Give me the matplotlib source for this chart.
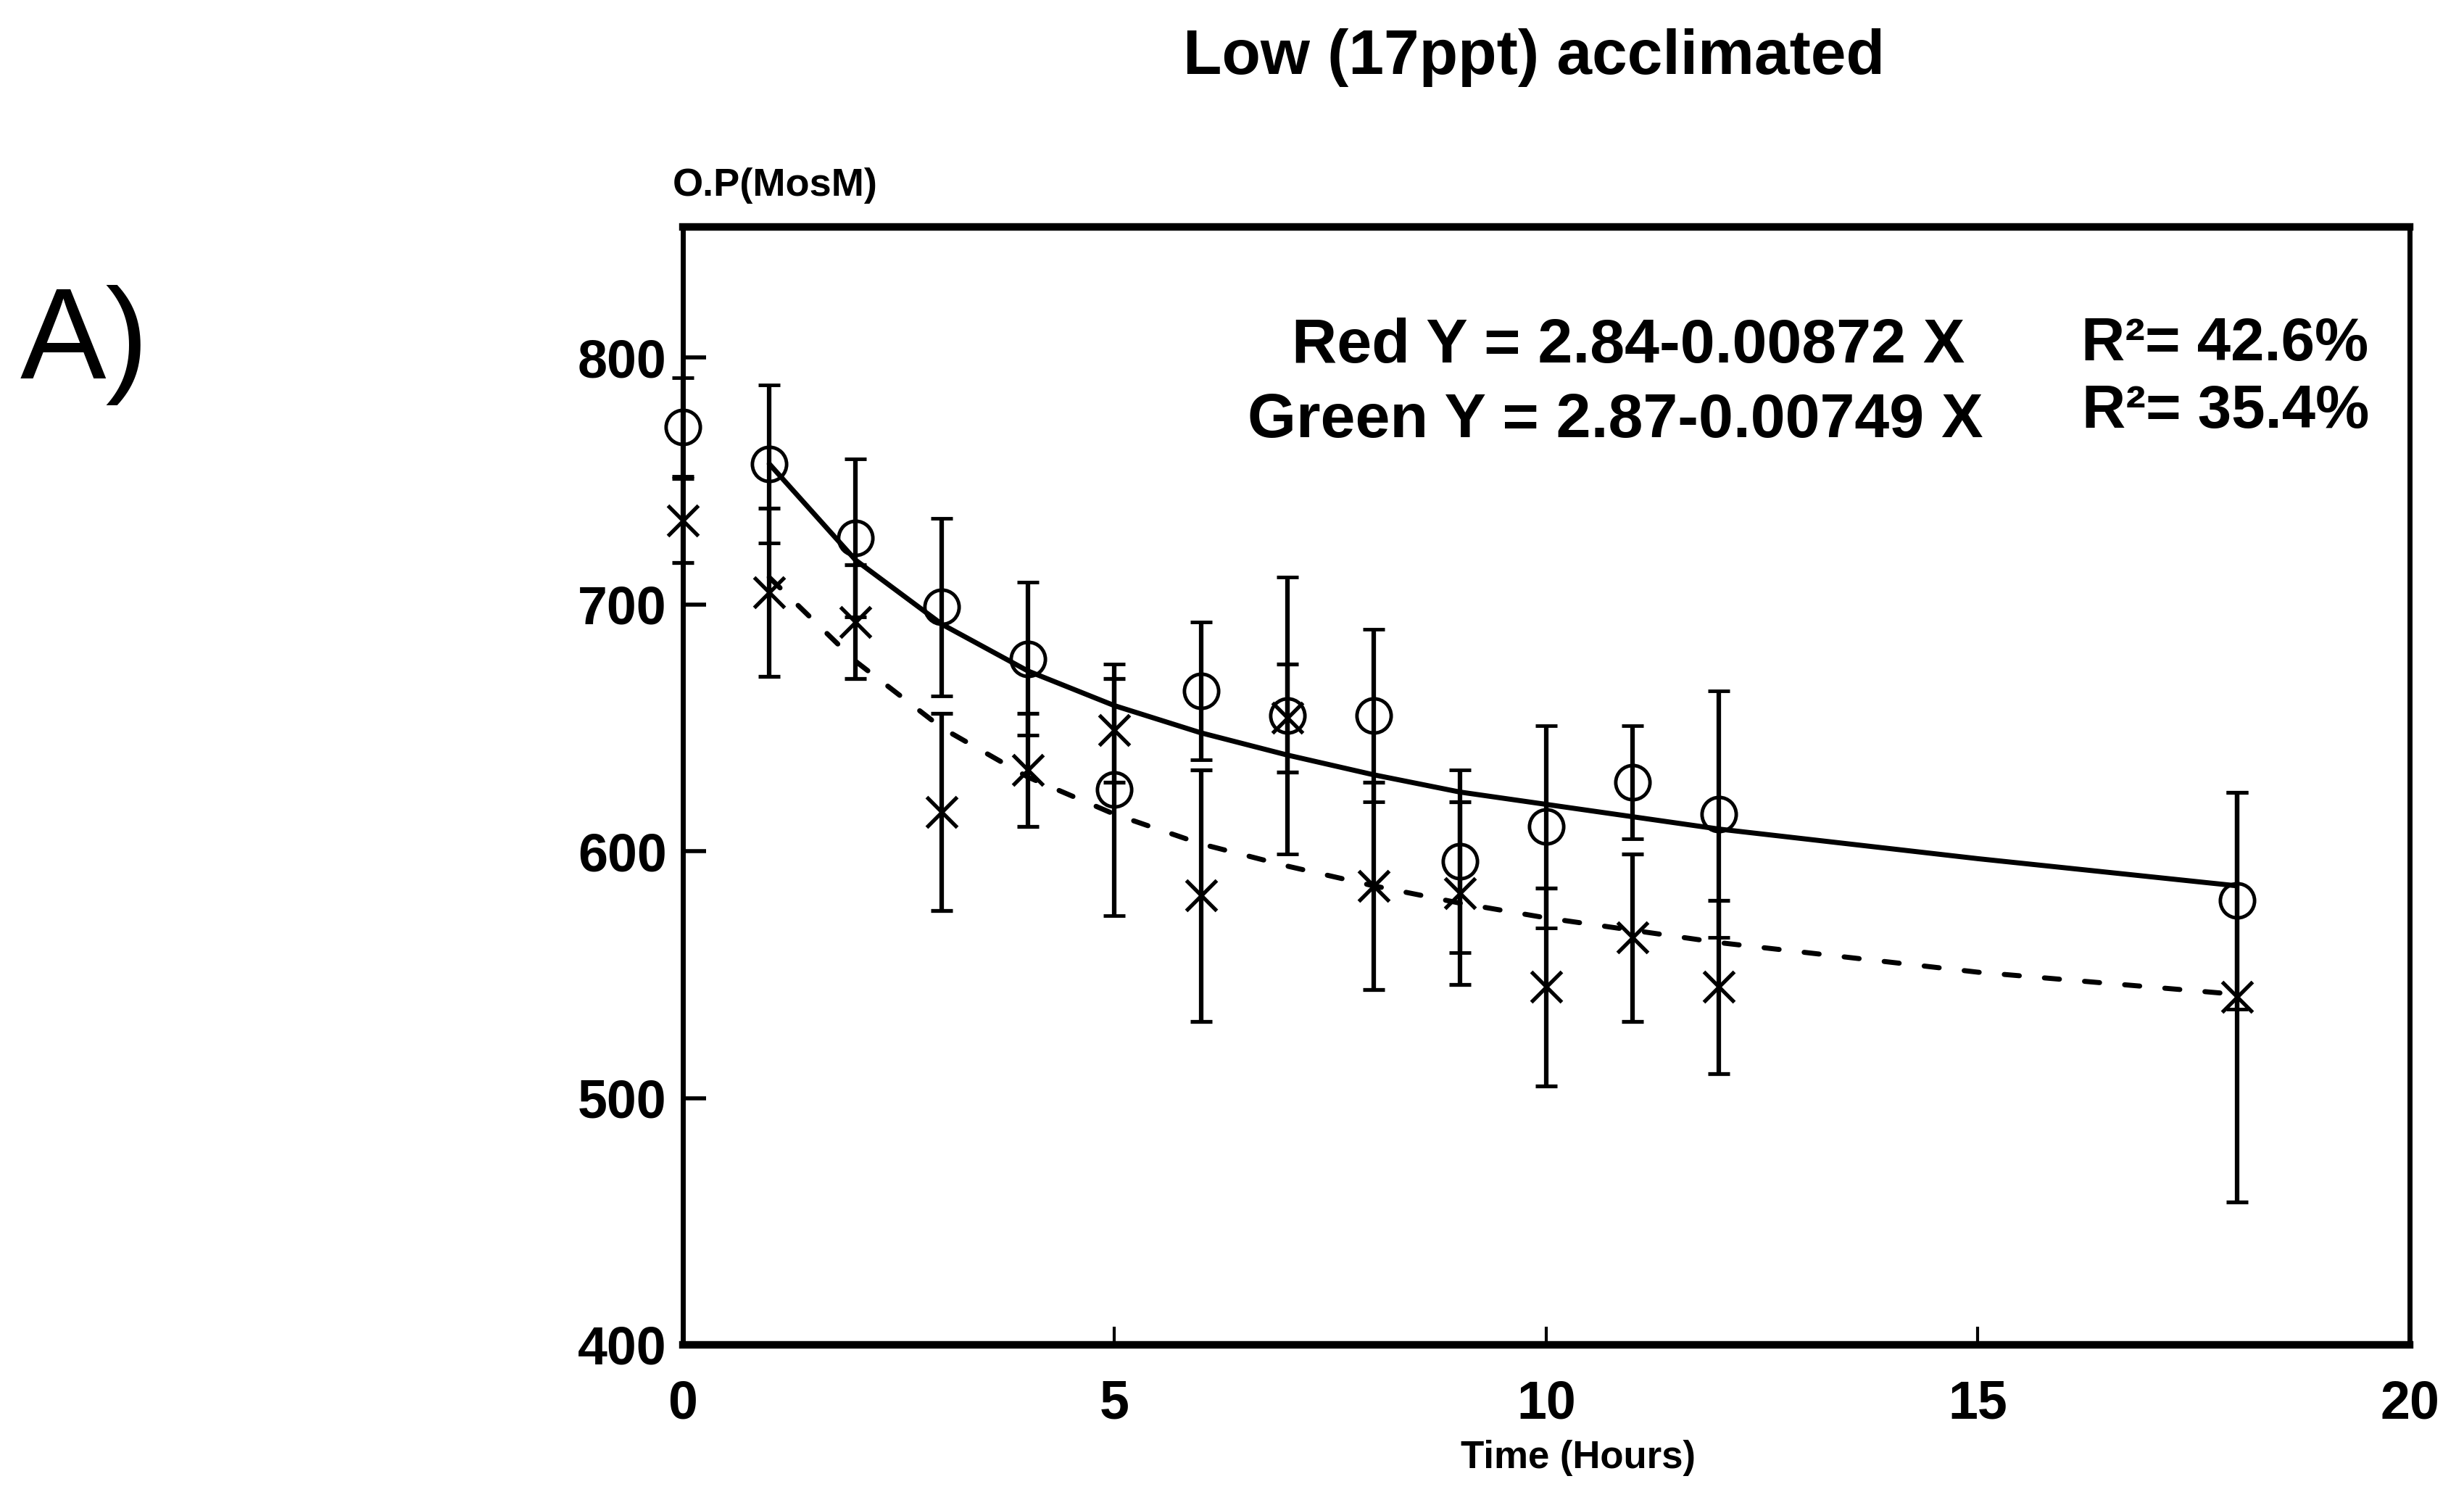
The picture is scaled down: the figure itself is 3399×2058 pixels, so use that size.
import matplotlib
matplotlib.use("Agg")
import matplotlib.pyplot as plt

# ---------------- data ----------------
hours = [0, 1, 2, 3, 4, 5, 6, 7, 8, 9, 10, 11, 12, 18]

red_op = [772, 757, 727, 699, 678, 625, 665, 655, 655, 596, 610, 628, 615, 580]
red_err = [20, 32, 32, 36, 31, 51, 28, 56, 35, 37, 41, 23, 50, 44]

green_op = [734, 705, 693, 616, 633, 649, 582, 654, 586, 583, 545, 565, 545, 541]
green_err = [17, 34, 23, 40, 23, 21, 51, 22, 42, 37, 40, 34, 35, 83]

fit_hours = [1, 2, 3, 4, 5, 6, 7, 8, 9, 10, 11, 12, 15, 18]
red_fit = [757, 718, 692, 673, 659, 648, 639, 631, 624, 619, 614, 609, 597, 586]
green_fit = [711, 677, 650, 630, 615, 603, 594, 586, 579, 573, 568, 563, 551, 542]

x_ticks = [0, 5, 10, 15, 20]
y_ticks = [400, 500, 600, 700, 800]

title = "Low (17ppt) acclimated"
panel_label = "A)"
y_label = "O.P(MosM)"
x_label = "Time (Hours)"
red_eq = "Red Y = 2.84-0.00872 X"
green_eq = "Green Y = 2.87-0.00749 X"
red_r2 = "R\u00b2= 42.6%"
green_r2 = "R\u00b2= 35.4%"

# ---------------- figure ----------------
W, H = 3399, 2058
DPI = 100
fig = plt.figure(figsize=(W / DPI, H / DPI), dpi=DPI)
fig.patch.set_facecolor("white")

FONT = ["Liberation Sans", "DejaVu Sans"]

# axes placement (pixels from top-left of the reference)
ax_left, ax_right, ax_top, ax_bottom = 942, 3324, 313, 1855
ax = fig.add_axes([ax_left / W, 1 - ax_bottom / H,
                   (ax_right - ax_left) / W, (ax_bottom - ax_top) / H])

ax.set_xlim(0, 20)
ax.set_ylim(400, 853)

# fitted curves
ax.plot(fit_hours, red_fit, color="black", lw=5, solid_capstyle="round", zorder=2)
ax.plot(fit_hours, green_fit, color="black", lw=5, linestyle=(0, (3.0, 5.0)),
        dash_capstyle="round", zorder=2)

# data with error bars
eb_red = ax.errorbar(hours, red_op, yerr=red_err, fmt="o", ms=34, mfc="none",
                     mec="black", mew=3.5, ecolor="black", elinewidth=4.5,
                     capsize=11, capthick=6, zorder=3)
eb_green = ax.errorbar(hours, green_op, yerr=green_err, fmt="x", ms=30,
                       mec="black", mew=3.8, ecolor="black", elinewidth=4.5,
                       capsize=11, capthick=6, zorder=3)
for eb in (eb_red, eb_green):
    for art in eb.get_children():
        art.set_clip_on(False)

# spines
for side in ("top", "bottom"):
    ax.spines[side].set_linewidth(7.5)
for side in ("left", "right"):
    ax.spines[side].set_linewidth(5)

# ticks
ax.set_xticks(x_ticks)
ax.set_xticklabels([str(v) for v in x_ticks])
ax.set_yticks(y_ticks)
ax.set_yticklabels([str(v) for v in y_ticks])
ax.tick_params(axis="x", direction="in", length=18, width=3, pad=34)
ax.tick_params(axis="y", direction="in", length=23, width=4, pad=16)
for lab in ax.get_xticklabels() + ax.get_yticklabels():
    lab.set_fontfamily(FONT)
    lab.set_fontweight("bold")
    lab.set_fontsize(53)

# texts (figure pixel positions -> figure fraction)
def fx(px):
    return px / W

def fy(py):
    return 1 - py / H

fig.text(fx(2710), fy(500), red_eq, ha="right", va="baseline",
         fontsize=62, fontweight="bold", family=FONT)
fig.text(fx(2736), fy(603), green_eq, ha="right", va="baseline",
         fontsize=62, fontweight="bold", family=FONT)
fig.text(fx(3267), fy(497), red_r2, ha="right", va="baseline",
         fontsize=60, fontweight="bold", family=FONT)
fig.text(fx(3268), fy(590), green_r2, ha="right", va="baseline",
         fontsize=60, fontweight="bold", family=FONT)

# title and labels
fig.text(fx(2116), fy(102), title, ha="center", va="baseline",
         fontsize=63, fontweight="bold", family=FONT)
fig.text(fx(928), fy(270), y_label, ha="left", va="baseline",
         fontsize=39, fontweight="bold", family=FONT)
fig.text(fx(2177), fy(2025), x_label, ha="center", va="baseline",
         fontsize=38, fontweight="bold", family=FONT)
fig.text(fx(28), fy(522), panel_label, ha="left", va="baseline",
         fontsize=128, family=FONT)

fig.savefig("out.png", dpi=DPI, facecolor="white")
